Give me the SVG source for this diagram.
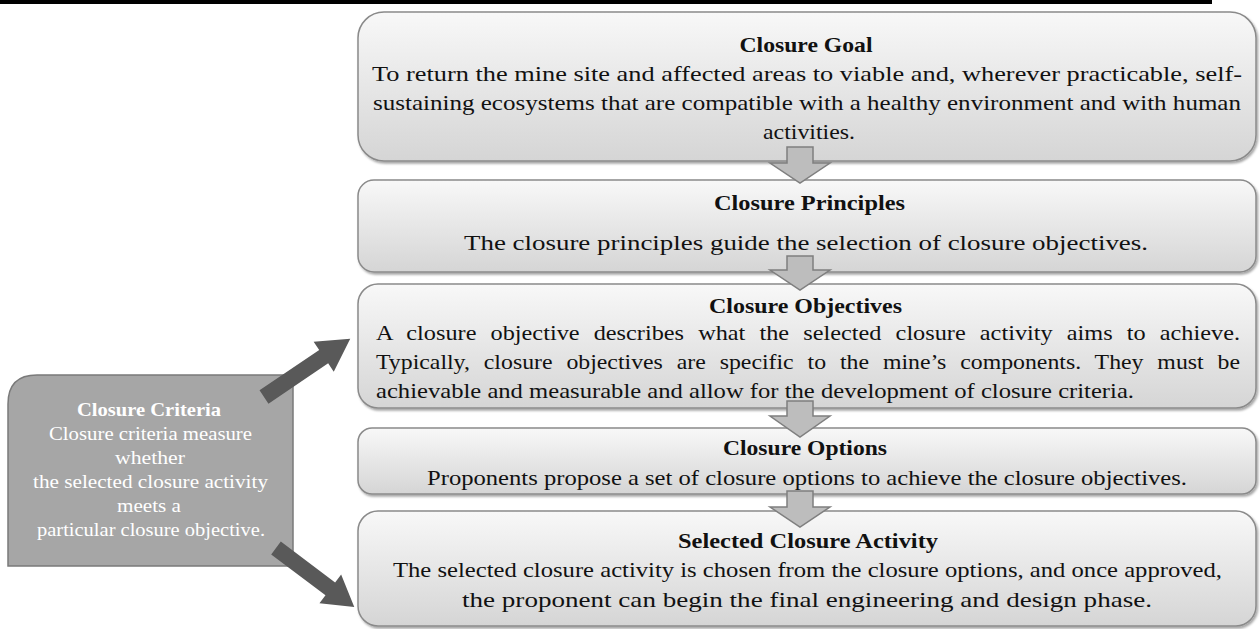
<svg xmlns="http://www.w3.org/2000/svg" width="1260" height="629" viewBox="0 0 1260 629">
<style>
.box{fill:url(#g);stroke:#8a8a8a;stroke-width:1.5;filter:url(#sh)}
.t{font-family:"Liberation Serif","Times New Roman",serif;font-size:21px;fill:#111}
.b{font-weight:bold}
.c{font-family:"Liberation Serif","Times New Roman",serif;font-size:19px;fill:#fff}
.j{word-spacing:7px}
.down{fill:#bdbdbd;stroke:#7f7f7f;stroke-width:1.5}
.side{fill:#595959}
</style>
<defs>
<linearGradient id="g" x1="0" y1="0" x2="0" y2="1">
<stop offset="0" stop-color="#f8f8f8"/>
<stop offset="1" stop-color="#d5d5d5"/>
</linearGradient>
<filter id="sh" x="-5%" y="-10%" width="110%" height="125%">
<feDropShadow dx="1.5" dy="2" stdDeviation="1.2" flood-color="#000" flood-opacity="0.35"/>
</filter>
</defs>
<rect x="0" y="0" width="1212" height="4" fill="#000"/>

<g id="goal">
<rect class="box" x="358" y="12" width="898" height="149" rx="26"/>
<text class="t b" x="806" y="52" text-anchor="middle" textLength="133" lengthAdjust="spacingAndGlyphs">Closure Goal</text>
<text class="t" x="372" y="81" textLength="870" lengthAdjust="spacingAndGlyphs">To return the mine site and affected areas to viable and, wherever practicable, self-</text>
<text class="t" x="373" y="110" textLength="868" lengthAdjust="spacingAndGlyphs">sustaining ecosystems that are compatible with a healthy environment and with human</text>
<text class="t" x="763" y="139" textLength="92" lengthAdjust="spacingAndGlyphs">activities.</text>
</g>

<g id="principles">
<rect class="box" x="358" y="180" width="898" height="92" rx="16"/>
<text class="t b" x="714" y="210" textLength="191" lengthAdjust="spacingAndGlyphs">Closure Principles</text>
<text class="t" x="464" y="250" textLength="684" lengthAdjust="spacingAndGlyphs">The closure principles guide the selection of closure objectives.</text>
</g>

<g id="objectives">
<rect class="box" x="358" y="284" width="898" height="124" rx="20"/>
<text class="t b" x="709" y="313" textLength="193" lengthAdjust="spacingAndGlyphs">Closure Objectives</text>
<text class="t j" x="376" y="340" textLength="864" lengthAdjust="spacingAndGlyphs">A closure objective describes what the selected closure activity aims to achieve.</text>
<text class="t j" x="376" y="369" textLength="864" lengthAdjust="spacingAndGlyphs">Typically, closure objectives are specific to the mine’s components. They must be</text>
<text class="t" x="376" y="398" textLength="758" lengthAdjust="spacingAndGlyphs">achievable and measurable and allow for the development of closure criteria.</text>
</g>

<g id="options">
<rect class="box" x="358" y="428" width="898" height="66" rx="14"/>
<text class="t b" x="723" y="455" textLength="164" lengthAdjust="spacingAndGlyphs">Closure Options</text>
<text class="t" x="427" y="485" textLength="760" lengthAdjust="spacingAndGlyphs">Proponents propose a set of closure options to achieve the closure objectives.</text>
</g>

<g id="selected">
<rect class="box" x="358" y="511" width="898" height="115" rx="20"/>
<text class="t b" x="678" y="548" textLength="260" lengthAdjust="spacingAndGlyphs">Selected Closure Activity</text>
<text class="t" x="393" y="577" textLength="829" lengthAdjust="spacingAndGlyphs">The selected closure activity is chosen from the closure options, and once approved,</text>
<text class="t" x="462" y="607" textLength="690" lengthAdjust="spacingAndGlyphs">the proponent can begin the final engineering and design phase.</text>
</g>

<g id="criteria">
<path d="M8,404 Q8,375 37,375 L293,375 L293,566 L8,566 Z" fill="#a6a6a6" stroke="#7a7a7a" stroke-width="1.5"/>
<text class="c b" x="77" y="416" textLength="144" lengthAdjust="spacingAndGlyphs">Closure Criteria</text>
<text class="c" x="49" y="440" textLength="203" lengthAdjust="spacingAndGlyphs">Closure criteria measure</text>
<text class="c" x="115" y="464" textLength="70" lengthAdjust="spacingAndGlyphs">whether</text>
<text class="c" x="33" y="488" textLength="235" lengthAdjust="spacingAndGlyphs">the selected closure activity</text>
<text class="c" x="117" y="512" textLength="64" lengthAdjust="spacingAndGlyphs">meets a</text>
<text class="c" x="37" y="536" textLength="228" lengthAdjust="spacingAndGlyphs">particular closure objective.</text>
</g>

<g id="connectors">
<polygon class="down" points="787,147 813,147 813,163 830,163 800,183 770,163 787,163"/>
<polygon class="down" points="787,256 813,256 813,270 830,270 800,290 770,270 787,270"/>
<polygon class="down" points="787,401 813,401 813,416 830,416 800,437 770,416 787,416"/>
<polygon class="down" points="787,491 813,491 813,507 830,507 800,527 770,507 787,507"/>
<polygon class="side" transform="translate(264,397) rotate(-34)" points="0,-8 72,-8 72,-18 104,0 72,18 72,8 0,8"/>
<polygon class="side" transform="translate(276,548) rotate(37)" points="0,-8 68,-8 68,-18 98,0 68,18 68,8 0,8"/>
</g>
</svg>
